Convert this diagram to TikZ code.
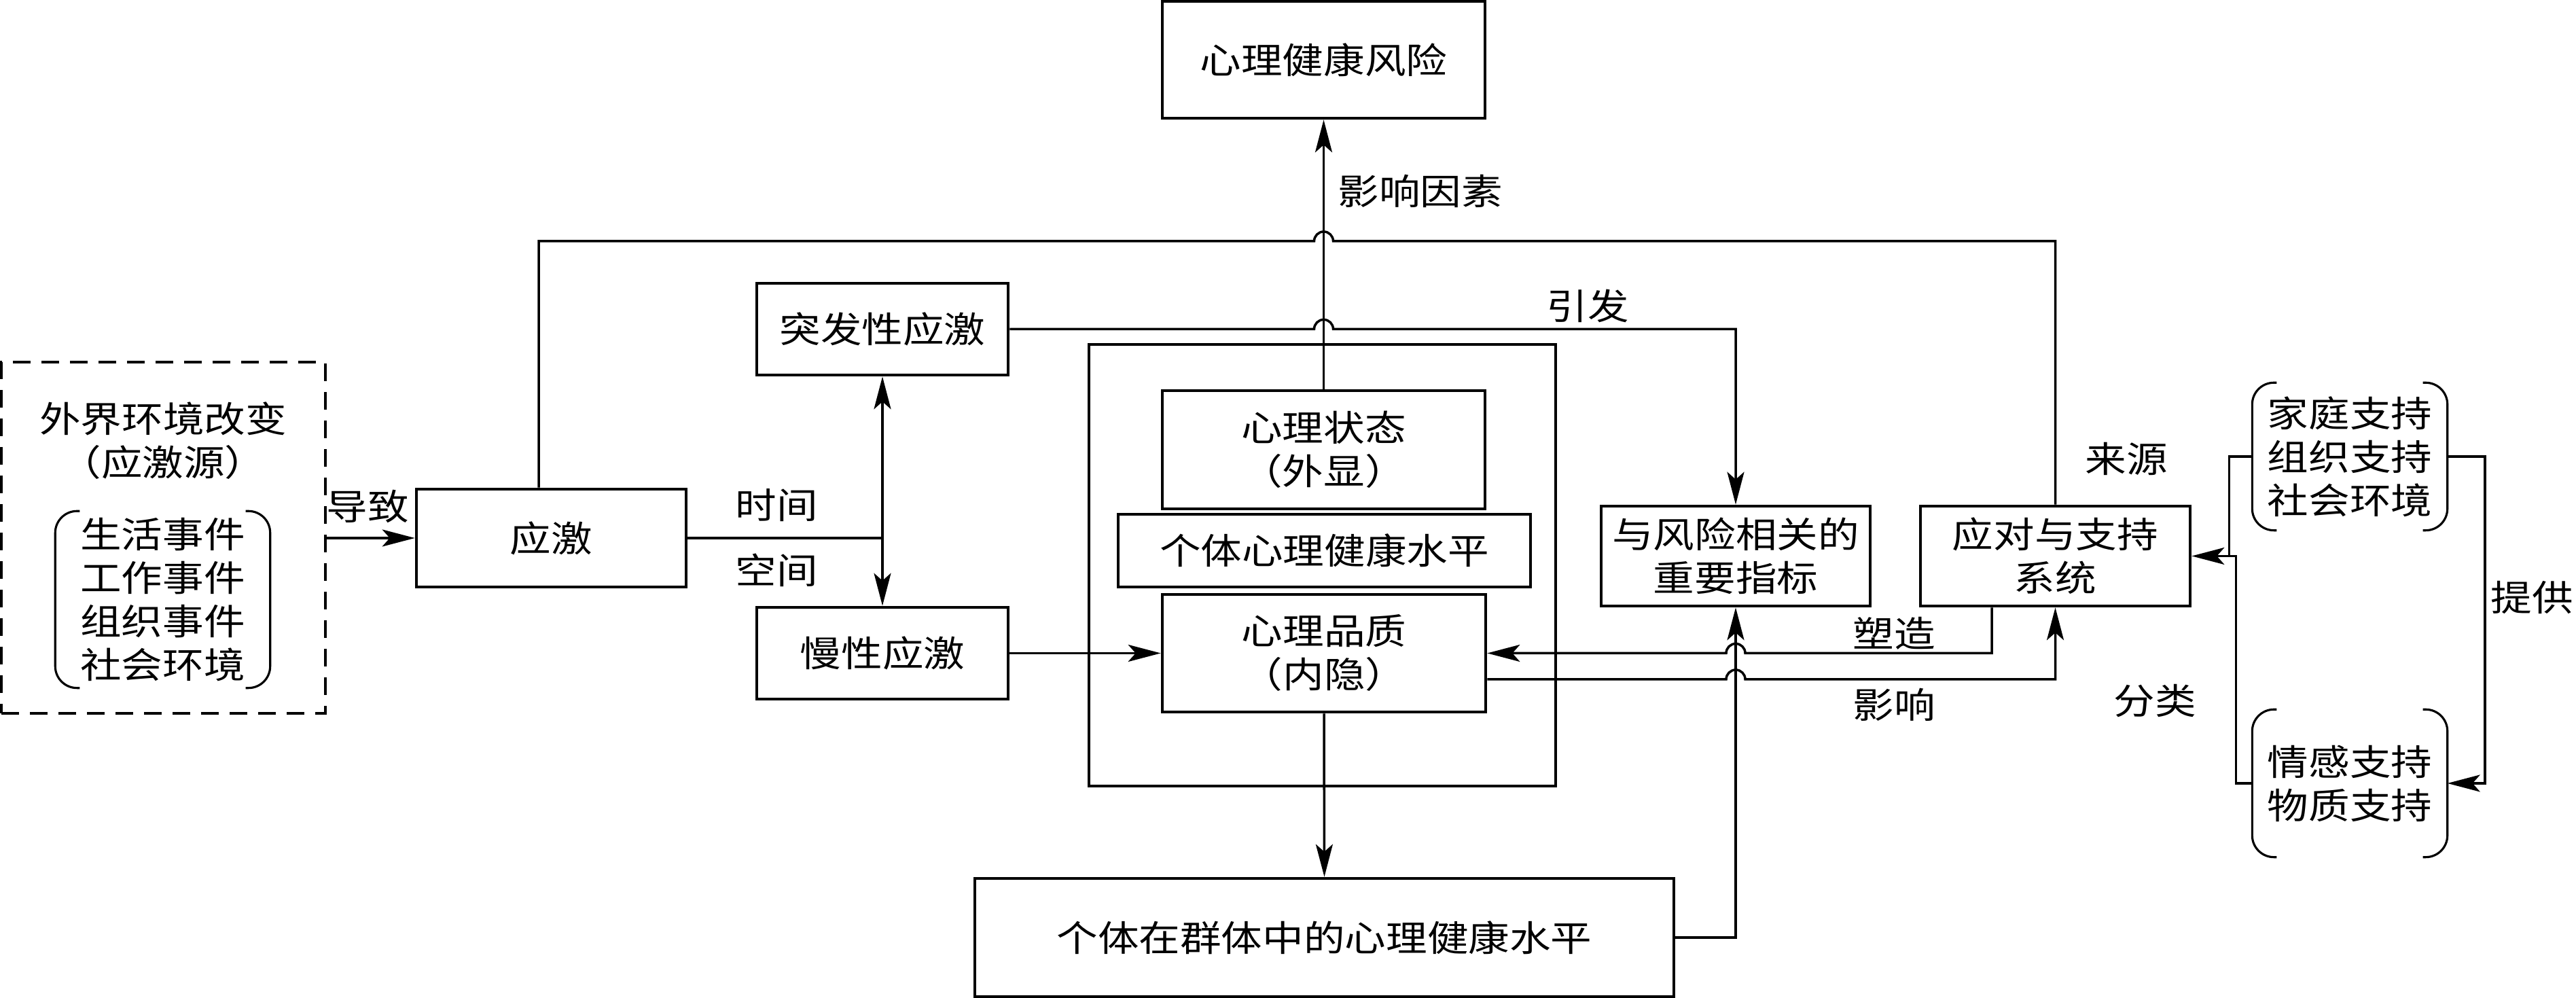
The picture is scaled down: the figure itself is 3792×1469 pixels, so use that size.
\documentclass[tikz,border=0pt]{standalone}
\usepackage{fontspec}
\setmainfont{Noto Sans CJK SC}[FakeStretch=1.15]
\usetikzlibrary{arrows.meta,calc}

\begin{document}
\begin{tikzpicture}[x=0.1mm,y=0.1mm,
  >={Stealth[length=4.8mm,width=2.5mm,inset=1.1mm]},
  every node/.style={font=\fontsize{15pt}{18.2pt}\selectfont, align=center, inner sep=0pt},
  box/.style={draw, line width=1.3pt},
  link/.style={line width=1pt},
  bra/.style={line width=0.9pt, rounded corners=3.2mm}]
\useasboundingbox (0,0) rectangle (3792,1469);
% Fuente
\node[box, line width=1.4pt, dash pattern=on 2.6mm off 1.6mm, minimum width=47.7mm, minimum height=51.7mm] (source) at (240.5,677.5) {};
\node (srcname) at (240,820) {外界环境改变\\（应激源）};
\node[minimum width=31.5mm, minimum height=25.9mm] (events) at (239.5,586.5) {生活事件\\工作事件\\组织事件\\社会环境};
% Cajas
\node[box, minimum width=47.5mm, minimum height=17.2mm] (risk) at (1948.5,1381) {心理健康风险};
\node[box, minimum width=39.7mm, minimum height=14.4mm] (stress) at (811.5,677) {应激};
\node[box, minimum width=37mm, minimum height=13.5mm] (sudden) at (1299,984.5) {突发性应激};
\node[box, minimum width=37mm, minimum height=13.5mm] (chronic) at (1299,507.5) {慢性应激};
\node[box, line width=1.1pt, minimum width=68.7mm, minimum height=65mm] (indiv) at (1946.5,637) {};
\node[box, minimum width=47.5mm, minimum height=17.4mm] (state) at (1948.5,807) {心理状态\\（外显）};
\node[box, minimum width=60.7mm, minimum height=10.7mm] (level) at (1949.5,658.5) {个体心理健康水平};
\node[box, minimum width=47.6mm, minimum height=17.3mm] (trait) at (1949,507.5) {心理品质\\（内隐）};
\node[box, minimum width=39.6mm, minimum height=14.7mm] (index) at (2555,650.5) {与风险相关的\\重要指标};
\node[box, minimum width=39.7mm, minimum height=14.7mm] (cope) at (3025.5,650.5) {应对与支持\\系统};
\node[box, minimum width=102.9mm, minimum height=17.4mm] (group) at (1949.5,89) {个体在群体中的心理健康水平};
% Apoyos
\node[minimum width=28.6mm, minimum height=21.6mm] (family) at (3459,797) {家庭支持\\组织支持\\社会环境};
\node[minimum width=28.6mm, minimum height=21.6mm] (aid) at (3459,316) {情感支持\\物质支持};
\foreach \n in {events,family,aid} {
  \draw[bra] ([xshift=3.6mm]\n.north west) -- (\n.north west) -- (\n.south west) -- ([xshift=3.6mm]\n.south west);
  \draw[bra] ([xshift=-3.6mm]\n.north east) -- (\n.north east) -- (\n.south east) -- ([xshift=-3.6mm]\n.south east);
}
% Flechas
\draw[link,->] (source.east |- stress.west) -- (stress.west);
\node (daozhi) at (541,724) {导致};
\coordinate (fork) at (sudden.south |- stress.east);
\draw[link] (stress.east) -- (fork);
\draw[link,<->] (sudden.south) -- (chronic.north);
\node (shijian) at (1143,725) {时间};
\node (kongjian) at (1143,630) {空间};
\draw[link,->] (chronic.east) -- (trait.west);
\draw[link,->] (state.north) -- (risk.south);
\node[anchor=west] (yinsu) at (1969,1188) {影响因素};
% Lazo
\coordinate (loopy) at (0,1114);
\draw[link] ([xshift=-1.85mm]stress.north) |- ($(state.north |- loopy)+(-14,0)$) arc (180:0:1.4mm) -| (cope.north);
\node (laiyuan) at (3130,794) {来源};
\draw[link,->] (sudden.east) -- ($(state.north |- sudden.east)+(-14,0)$) arc (180:0:1.4mm) -| (index.north);
\node (yinfa) at (2337,1019) {引发};
% Abajo
\draw[link,->] ([xshift=-9.35mm]cope.south) |- ($(index.south |- trait.east)+(14,0)$) arc (0:180:1.4mm) -- (trait.east);
\node (suzao) at (2788,537) {塑造};
\coordinate (infl) at ([yshift=-3.85mm]trait.east);
\draw[link,->] (infl) -- ($(index.south |- infl)+(-14,0)$) arc (180:0:1.4mm) -| (cope.south);
\node (yingxiang) at (2788,432) {影响};
\draw[link,->] (trait.south) -- (group.north);
\draw[link,->] (group.east) -| (index.south);
% Derecha
\draw[link] (family.west) -| ([xshift=5.5mm]cope.east);
\draw[link,->] (aid.west) -| ([xshift=6.5mm]cope.east) -- (cope.east);
\draw[link,->] (family.east) -- ++(5.5mm,0) |- (aid.east);
\node (fenlei) at (3172,437) {分类};
\node (tigong) at (3727,589) {提供};
\end{tikzpicture}
\end{document}
